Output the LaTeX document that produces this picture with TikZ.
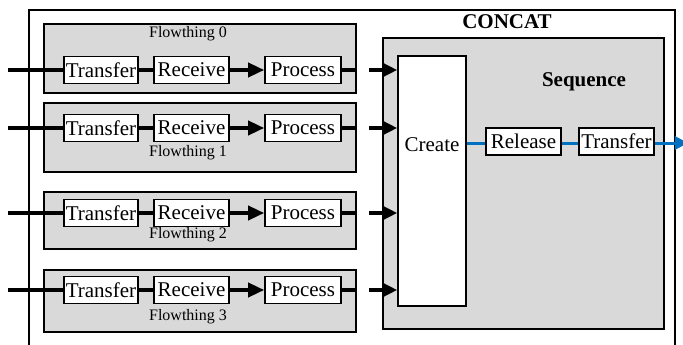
\documentclass[tikz,border=0pt]{standalone}
\usepackage{fontspec}
\setmainfont{Liberation Serif}
\usepackage{tikz}
\usetikzlibrary{positioning, calc, arrows.meta}

\definecolor{boxgray}{HTML}{D9D9D9}
\definecolor{seqblue}{HTML}{0070C0}

\begin{document}
\begin{tikzpicture}[x=1pt, y=-1pt]
  \tikzstyle{coord}=[inner sep=0pt, outer sep=0pt]
  \tikzstyle{grp}=[draw, fill=boxgray, line width=1.6pt, inner sep=0pt, minimum width=312pt]
  \tikzstyle{stage}=[draw, fill=white, line width=1.6pt, inner sep=0pt, minimum height=27pt, font=\fontsize{21}{24}\selectfont]
  \tikzstyle{flow}=[line width=3.6pt]
  \tikzstyle{tip}=[-{Triangle[length=16pt, width=14pt]}]
  \tikzstyle{lbl}=[inner sep=0pt, font=\fontsize{16}{18}\selectfont]
  \useasboundingbox (0,0) rectangle (683,345);

  % outer box (bottom runs off the page)
  \draw[line width=1.6pt] (29,360) -- (29,10) -- (675,10) -- (675,360);
  \node (concat) at (507,22) [lbl, font=\fontsize{21}{24}\selectfont\bfseries] {CONCAT};

  % sequence part
  \node (seq) at (523.5,183.5) [draw, fill=boxgray, line width=1.6pt, minimum width=281pt, minimum height=291pt] {};
  \node (seqlbl) at (584,82) [lbl, font=\fontsize{21}{24}\selectfont\bfseries] {Sequence};
  \node (create) at (432,181) [draw, fill=white, line width=1.6pt, minimum width=68pt, minimum height=250pt] {};
  \node (createlbl) at (432,145) [lbl, font=\fontsize{21}{24}\selectfont] {Create};
  \node (release) at (523.5,141.5) [stage, minimum width=75pt] {Release};
  \node (xferout) at (616.5,141.5) [stage, minimum width=75pt] {Transfer};
  \coordinate (seqout) at (688,143);

  % flowthings
  \foreach \i/\y/\cy/\h/\ly in {0/70/58.5/69/34, 1/128/137.5/69/153, 2/213/220.5/57/235, 3/290/301/62/317} {
    \node (ft\i) at (200,\cy) [grp, minimum height=\h pt] {};
    \node (ftlbl\i) at (188,\ly) [lbl] {Flowthing \i};
    \node (xfer\i) at (101,\y) [stage, minimum width=74pt] {Transfer};
    \node (recv\i) at (191.5,\y) [stage, minimum width=75pt] {Receive};
    \node (proc\i) at (303,\y) [stage, minimum width=76pt] {Process};
    \coordinate (in\i) at (8,\y);
    \coordinate (out\i) at (369,\y);
  }

  % connections
  \foreach \i in {0,...,3} {
    \draw[flow] (in\i) -- (xfer\i.west);
    \draw[flow] (xfer\i) -- (recv\i);
    \draw[flow, tip] (recv\i) -- (proc\i);
    \draw[flow] (proc\i.east) -- (proc\i.east -| ft\i.east);
    \draw[flow, -{Triangle[length=14pt, width=13pt]}] (out\i) -- (out\i -| create.west);
  }

  % sequence flow
  \draw[seqblue, line width=3pt] (create.east |- release.west) ++(0,1.5) -- ($(release.west)+(0,1.5)$);
  \draw[seqblue, line width=3pt] ($(release.east)+(0,1.5)$) -- ($(xferout.west)+(0,1.5)$);
  \draw[seqblue, line width=3pt, -{Triangle[length=13pt, width=13pt]}] ($(xferout.east)+(0,1.5)$) -- (seqout);
\end{tikzpicture}
\end{document}
